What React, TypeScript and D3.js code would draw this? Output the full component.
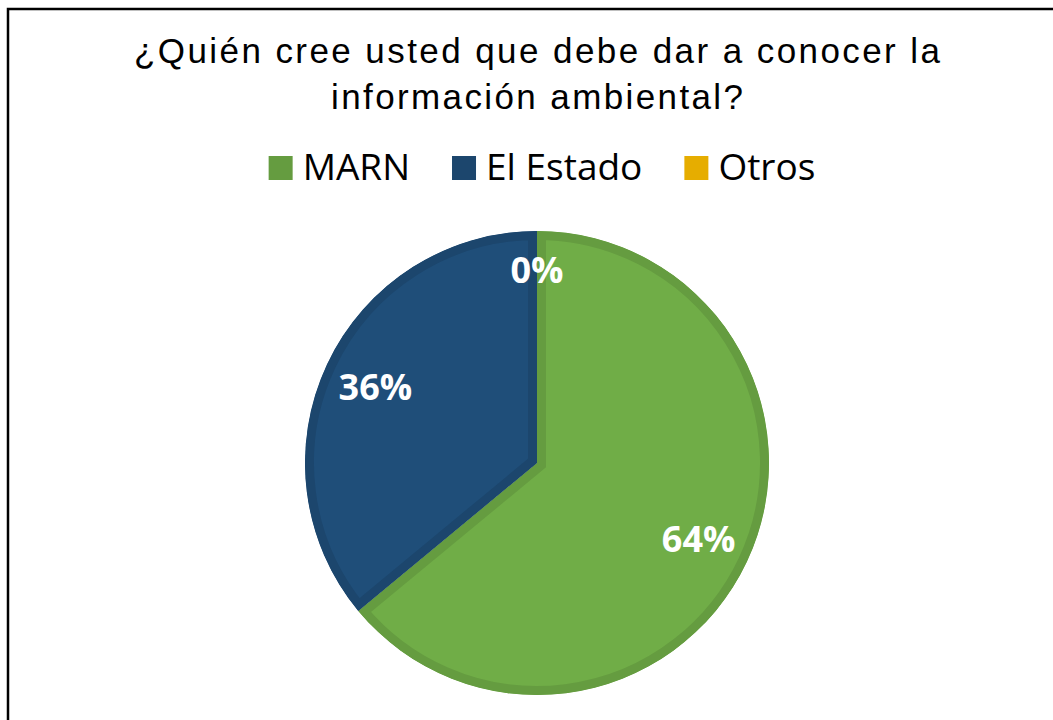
import React, { useEffect, useRef } from 'react';
import * as d3 from 'd3';

const categories = ['MARN', 'El Estado', 'Otros'];
const values = [64, 36, 0];
const fills = ['#70AD47', '#1F4E79', '#FFC000'];
const borders = ['#659C40', '#1C466D', '#E6AD00'];
const titleLines = ['¿Quién cree usted que debe dar a conocer la', 'información ambiental?'];

function App() {
  const ref = useRef<SVGSVGElement>(null);

  useEffect(() => {
    const svg = d3.select(ref.current);
    svg.selectAll('*').remove();

    const width = 1053, height = 720;
    const cx = 537, cy = 463, radius = 232, band = 9;

    // frame (cropped on the right and bottom)
    svg.append('rect')
      .attr('x', 8).attr('y', 9)
      .attr('width', width + 40).attr('height', height + 40)
      .attr('fill', '#fff')
      .attr('stroke', '#000')
      .attr('stroke-width', 2.5);

    // title
    const titleWidths = [806, 412];
    svg.append('g').selectAll('text')
      .data(titleLines)
      .enter()
      .append('text')
      .attr('x', 537)
      .attr('y', (d, i) => 63 + i * 46)
      .attr('text-anchor', 'middle')
      .attr('font-family', '"Liberation Sans", Arial, sans-serif')
      .attr('font-size', 35)
      .attr('fill', '#000')
      .attr('textLength', (d, i) => titleWidths[i])
      .attr('lengthAdjust', 'spacing')
      .text(d => d);

    // legend
    const legend = svg.append('g');
    const sq = 24, gapText = 12, gapItem = 40;
    const items = legend.selectAll('g')
      .data(categories)
      .enter()
      .append('g');
    items.append('rect')
      .attr('width', sq).attr('height', sq)
      .attr('y', 156)
      .attr('fill', (d, i) => borders[i]);
    items.append('text')
      .attr('y', 180)
      .attr('font-family', '"Open Sans", sans-serif')
      .attr('font-size', 37)
      .attr('fill', '#000')
      .text(d => d);
    const widths: number[] = [];
    items.select('text').each(function () {
      widths.push((this as SVGTextElement).getComputedTextLength());
    });
    const total = d3.sum(widths) + categories.length * (sq + gapText) + (categories.length - 1) * gapItem;
    let x = 543 - total / 2;
    items.each(function (d, i) {
      const g = d3.select(this);
      g.select('rect').attr('x', x);
      g.select('text').attr('x', x + sq + gapText - 2);
      x += sq + gapText + widths[i] + gapItem;
    });

    // pie
    const pie = d3.pie<number>().sort(null).value(d => d);
    const arcs = pie(values);
    const arc = d3.arc<d3.PieArcDatum<number>>().innerRadius(0).outerRadius(radius);
    const labelArc = d3.arc<d3.PieArcDatum<number>>().innerRadius(radius * 0.77).outerRadius(radius * 0.77);
    const zeroArc = d3.arc<d3.PieArcDatum<number>>().innerRadius(radius * 0.83).outerRadius(radius * 0.83);

    const pg = svg.append('g').attr('transform', `translate(${cx},${cy})`);
    const defs = svg.append('defs');
    arcs.forEach((a, i) => {
      defs.append('clipPath').attr('id', `slice-${i}`)
        .append('path').attr('d', arc(a) || '');
    });

    pg.selectAll('path.slice')
      .data(arcs)
      .enter()
      .append('path')
      .attr('class', 'slice')
      .attr('d', d => arc(d) || '')
      .attr('fill', (d, i) => fills[i])
      .attr('stroke', (d, i) => borders[i])
      .attr('stroke-width', band * 2)
      .attr('stroke-linejoin', 'miter')
      .attr('clip-path', (d, i) => `url(#slice-${i})`);

    pg.selectAll('text.lbl')
      .data(arcs)
      .enter()
      .append('text')
      .attr('class', 'lbl')
      .attr('transform', d => {
        const c = d.data === 0 ? zeroArc.centroid(d) : labelArc.centroid(d);
        return `translate(${c[0]},${c[1]})`;
      })
      .attr('text-anchor', 'middle')
      .attr('dy', '0.36em')
      .attr('font-family', '"Open Sans", sans-serif')
      .attr('font-weight', 'bold')
      .attr('font-size', 36)
      .attr('fill', '#fff')
      .text(d => Math.round(d.data) + '%');
  }, []);

  return (
    <svg
      ref={ref}
      width={1053}
      height={720}
      style={{ position: 'absolute', left: 0, top: 0, display: 'block' }}
    />
  );
}

export default App;
